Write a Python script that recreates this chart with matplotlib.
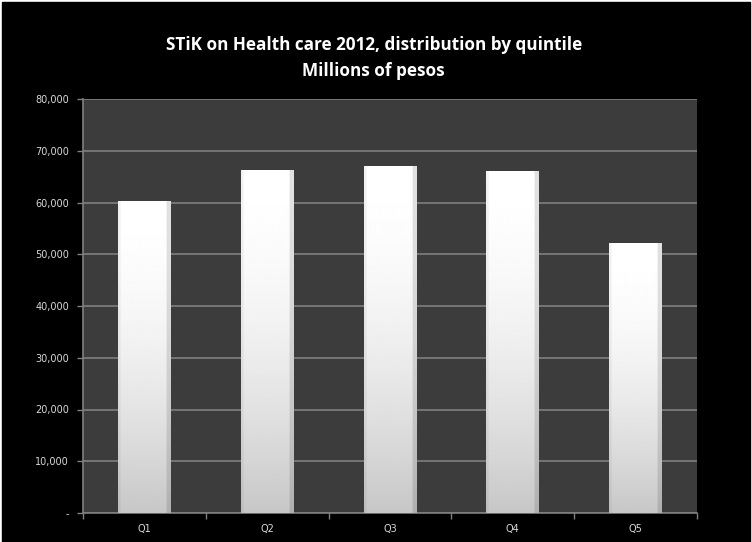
import numpy as np
import matplotlib
matplotlib.use("Agg")
import matplotlib.pyplot as plt
from matplotlib.ticker import FuncFormatter

# STiK on health care 2012, millions of pesos
quintiles = ["Q1", "Q2", "Q3", "Q4", "Q5"]
values = [60300, 66300, 67100, 66100, 52200]

title = "STiK on Health care 2012, distribution by quintile\nMillions of pesos"

fig = plt.figure(figsize=(7.52, 5.42), dpi=100, facecolor="white")
# black frame inside a thin white border
fig.patches.append(plt.Rectangle((2 / 752, 0), 748 / 752, 540 / 542,
                                 transform=fig.transFigure, color="black", zorder=-10))

ax = fig.add_axes([83 / 752, 29 / 542, 614 / 752, 414 / 542])
ax.set_facecolor("#3c3c3c")

x = np.arange(len(quintiles))
bars = ax.bar(x, values, width=0.43, color="white", zorder=2)

# vertical fade plus a darker strip on the right side of each bar
t = np.linspace(0, 1, 200)[:, None]
shade_v = 1.0 - 0.22 * (1 - t) ** 1.8
cols = np.linspace(0, 1, 60)[None, :]
shade_h = np.where(cols > 0.92, 0.88, np.where(cols < 0.04, 0.95, 1.0))
img = shade_v * shade_h
for b in bars:
    x0, w, h = b.get_x(), b.get_width(), b.get_height()
    im = ax.imshow(img, cmap="gray", vmin=0, vmax=1, origin="lower",
                   extent=(x0, x0 + w, 0, h), aspect="auto", zorder=3)
    im.set_clip_path(b)

ax.set_xlim(-0.5, len(quintiles) - 0.5)
ax.set_ylim(0, 80000)
ax.set_yticks(np.arange(0, 80001, 10000))
ax.yaxis.set_major_formatter(FuncFormatter(lambda v, p: "-" if v == 0 else f"{int(v):,}"))
ax.set_xticks(x)
ax.set_xticklabels(quintiles)
ax.set_xticks(np.arange(-0.5, len(quintiles), 1), minor=True)
ax.tick_params(axis="x", which="major", length=0, pad=8)
ax.tick_params(axis="x", which="minor", length=4, color="#808080", width=1)
ax.tick_params(axis="y", length=4, color="#808080", width=1, pad=6)
ax.tick_params(labelsize=7, labelcolor="#d9d9d9")

ax.grid(axis="y", color="#7a7a7a", linewidth=1.3, zorder=1)
ax.set_axisbelow(True)
for side in ["top", "right"]:
    ax.spines[side].set_visible(False)
for side in ["left", "bottom"]:
    ax.spines[side].set_color("#808080")
    ax.spines[side].set_linewidth(1.2)

fig.text(0.497, 1 - 58 / 542, title, ha="center", va="center", color="white",
         fontsize=12.3, fontweight="bold", linespacing=1.55,
         family=["Liberation Sans Narrow", "Open Sans", "DejaVu Sans"])

fig.savefig("out.png", dpi=100, facecolor=fig.get_facecolor())
